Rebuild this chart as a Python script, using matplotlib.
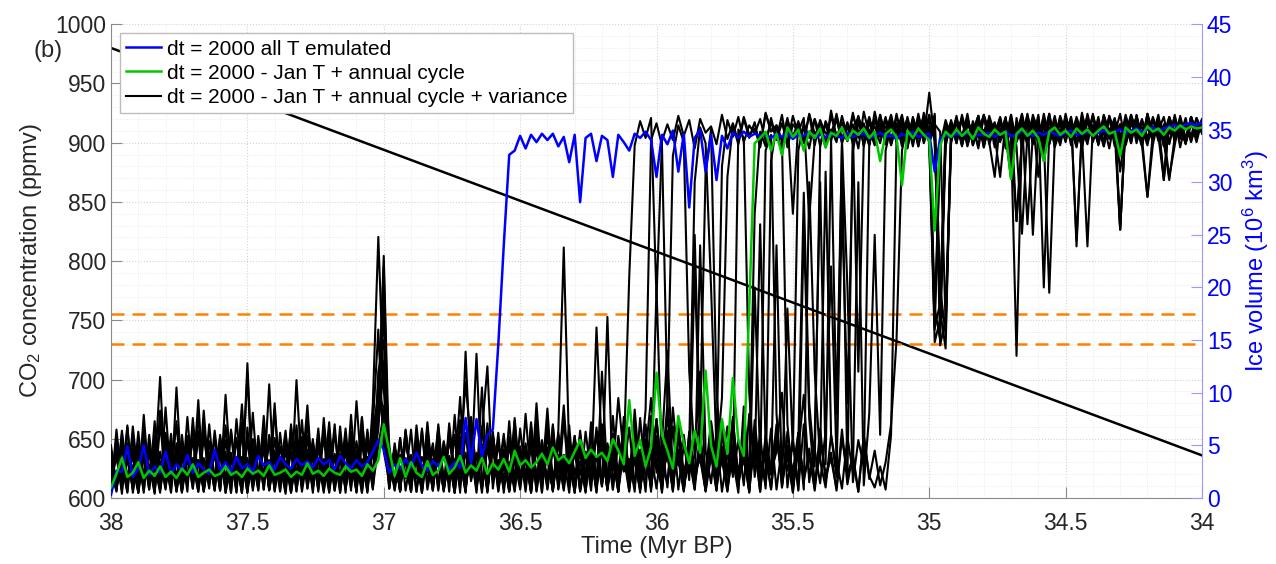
import numpy as np
import matplotlib
matplotlib.use('Agg')
import matplotlib.pyplot as plt
from matplotlib.ticker import MultipleLocator

# ---- data ----
# ice volume in 10^6 km^3, one value every 0.02 Myr from 38 to 34 Myr BP
blue_ice = [
    0.3, 2.6, 2.5, 4.9, 2.0, 2.8, 5.0, 2.2, 3.0, 2.4,
    4.4, 2.3, 3.2, 2.6, 4.1, 2.4, 3.3, 2.7, 2.3, 4.6,
    2.7, 3.4, 2.5, 3.9, 2.8, 3.2, 2.5, 4.0, 3.1, 3.4,
    2.7, 3.9, 3.2, 2.8, 3.7, 3.1, 3.5, 2.9, 3.8, 3.2,
    3.6, 2.7, 4.0, 3.3, 2.8, 3.6, 3.0, 3.4, 4.4, 5.5,
    4.6, 2.4, 3.2, 2.8, 3.7, 2.9, 4.3, 3.1, 2.6, 3.5,
    3.0, 3.8, 2.7, 3.4, 2.9, 7.6, 3.3, 7.5, 3.9, 6.0,
    6.5, 14.6, 24.0, 32.6, 33.0, 34.4, 33.2, 34.5, 33.8, 34.6,
    34.0, 34.6, 33.4, 34.3, 31.9, 34.5, 28.1, 34.2, 34.6, 32.0,
    34.4, 34.0, 30.5, 34.5, 33.8, 33.0, 34.6, 34.2, 34.8, 34.0,
    30.5, 34.5, 33.6, 34.9, 31.0, 34.6, 27.6, 34.2, 35.0, 31.0,
    34.5, 30.2, 34.4, 33.2, 34.7, 34.2, 34.8, 34.3, 34.6, 34.4,
    34.5, 34.2, 34.6, 34.3, 34.7, 34.1, 34.5, 34.4, 34.8, 34.2,
    34.5, 34.3, 34.6, 34.4, 34.2, 34.7, 34.3, 34.5, 34.6, 34.2,
    34.4, 34.7, 34.3, 34.5, 34.1, 34.6, 34.4, 34.8, 34.3, 34.5,
    34.6, 31.0, 34.2, 34.5, 34.3, 34.6, 34.4, 34.7, 34.3, 34.5,
    34.5, 34.7, 34.3, 34.6, 34.8, 34.4, 34.5, 34.9, 34.6, 34.4,
    34.7, 34.5, 34.8, 34.6, 34.4, 34.7, 34.9, 34.5, 34.6, 34.8,
    34.5, 34.7, 34.9, 34.6, 34.8, 35.0, 34.7, 34.9, 35.1, 34.8,
    35.0, 35.2, 34.9, 35.1, 35.3, 35.4, 35.2, 35.5, 35.6, 35.4,
    35.7]

green_ice = [
    1.0, 2.3, 3.8, 2.0, 2.4, 3.4, 1.9, 2.6, 2.1, 3.0,
    2.0, 2.5, 1.9, 2.8, 2.2, 3.2, 2.0, 2.4, 2.7, 2.1,
    2.3, 3.0, 2.2, 2.5, 2.0, 2.8, 2.3, 2.6, 2.1, 3.1,
    2.2, 2.4, 2.7, 2.0, 2.5, 2.2, 3.3, 2.3, 2.6, 2.1,
    2.8, 2.4, 2.2, 3.0, 2.5, 2.7, 2.1, 3.2, 2.6, 3.6,
    7.0, 4.5, 2.1, 3.8, 2.0, 3.4, 2.4, 2.0, 3.5, 2.2,
    2.6, 3.9, 2.3, 2.9, 4.0, 2.4, 3.1, 2.6, 3.8, 2.3,
    3.3, 2.7, 3.7, 2.5, 4.5, 3.1, 3.6, 2.9, 3.4, 4.2,
    3.2, 4.8, 3.6, 4.0, 3.3, 4.4, 5.5, 3.8, 4.6, 3.9,
    4.3, 3.5, 5.6, 4.5, 3.2, 9.3, 4.0, 5.5, 3.0, 4.8,
    11.9, 6.0, 4.5, 2.8, 7.8, 5.2, 3.3, 6.4, 4.3, 12.1,
    5.0, 3.0, 7.5, 4.2, 11.4, 5.5, 4.0, 18.1, 33.7, 34.2,
    34.8, 33.0, 34.6, 32.6, 35.2, 34.3, 35.0, 33.0, 34.8, 34.2,
    35.1, 33.3, 34.7, 34.4, 35.2, 34.0, 34.9, 34.5, 35.1, 34.2,
    34.8, 32.0, 34.6, 35.0, 34.3, 29.7, 34.9, 34.2, 35.1, 34.5,
    34.0, 25.4, 33.5, 34.8, 34.3, 35.0, 34.4, 34.9, 34.1, 35.2,
    34.6, 34.3, 35.0, 34.5, 34.8, 30.3, 34.6, 35.1, 34.4, 34.9,
    34.2, 32.0, 34.8, 35.2, 34.5, 34.9, 34.3, 35.1, 34.6, 35.0,
    34.4, 34.9, 35.3, 34.6, 34.8, 32.5, 35.2, 34.7, 35.0, 34.4,
    35.3, 34.8, 35.1, 34.5, 35.2, 34.9, 35.4, 35.0, 35.3, 35.1,
    35.2]

# ensemble members with added variance (black)
var_run1 = [
    0.5, 5.8, 1.2, 4.1, 0.8, 6.3, 1.5, 3.2, 0.4, 7.1,
    2.0, 4.6, 0.9, 5.2, 1.7, 3.8, 0.6, 6.8, 1.3, 4.4,
    0.7, 9.8, 1.9, 3.5, 0.5, 5.6, 1.1, 4.9, 0.8, 6.0,
    1.6, 3.3, 0.4, 5.4, 2.1, 7.4, 0.9, 4.2, 1.4, 5.9,
    0.6, 3.9, 1.8, 6.6, 1.0, 4.5, 0.5, 5.1, 2.3, 8.2,
    23.0, 3.6, 1.2, 5.7, 0.7, 4.0, 1.9, 6.4, 0.8, 3.7,
    1.5, 5.3, 0.6, 7.9, 1.3, 4.3, 2.0, 13.7, 0.9, 4.8,
    1.7, 6.2, 0.5, 5.0, 2.2, 4.1, 1.0, 7.2, 1.6, 5.5,
    0.8, 4.6, 2.4, 8.8, 1.2, 5.9, 0.7, 4.4, 1.9, 6.7,
    1.1, 5.2, 2.6, 9.5, 4.0,
    21.0, 33.5, 35.8, 34.2, 36.1, 19.0, 33.9, 35.5, 34.0, 36.3,
    34.4, 35.9, 33.2, 36.0, 34.7, 35.3, 33.6, 36.4, 34.1, 35.6,
    33.8, 36.2, 34.5, 35.1, 33.4, 36.6, 34.9, 35.4, 32.6, 36.0,
    34.3, 35.8, 33.7, 36.5, 34.6, 35.2, 33.3, 36.8, 34.2, 35.7,
    33.9, 36.3, 34.8, 35.0, 33.5, 36.7, 34.4, 35.9, 33.6, 36.2,
    34.7, 35.4, 33.8, 36.5, 34.1, 38.5, 33.9, 17.0, 34.5, 35.6,
    33.7, 36.1, 34.6, 35.3, 33.2, 36.4, 34.8, 35.7, 33.9, 36.0,
    34.3, 13.5, 34.9, 36.2, 33.6, 35.5, 34.2, 19.5, 33.8, 36.3,
    34.5, 35.8, 33.4, 36.6, 34.0, 35.2, 33.7, 36.4, 34.6, 35.5,
    33.3, 36.1, 34.8, 35.0, 33.9, 36.5, 34.2, 35.6, 33.6, 36.2,
    34.7, 35.3, 34.0, 36.0, 34.5, 35.4]

var_run2 = [
    3.4, 0.9, 6.1, 1.4, 4.7, 0.6, 5.5, 2.2, 3.0, 0.8,
    8.6, 1.3, 4.2, 0.5, 5.9, 1.8, 3.6, 0.7, 7.0, 1.5,
    4.3, 0.9, 6.5, 2.0, 3.9, 0.6, 8.1, 1.2, 4.8, 0.8,
    5.7, 1.9, 3.4, 0.5, 6.9, 1.3, 4.1, 2.4, 5.2, 0.7,
    6.3, 1.6, 3.8, 0.9, 5.5, 2.1, 7.6, 1.0, 9.0, 24.8,
    10.5, 1.4, 4.6, 0.6, 6.2, 1.8, 3.5, 0.8, 5.8, 2.3,
    4.0, 0.7, 6.6, 1.5, 3.9, 11.0, 5.1, 1.2, 4.5, 0.6,
    6.0, 2.1, 3.7, 0.9, 7.3, 1.4, 4.9, 0.5, 5.6, 1.9,
    3.8, 0.8, 6.4, 23.8, 4.2, 1.3, 5.3, 0.7, 4.7, 2.0,
    6.9, 1.1, 4.1, 0.6, 7.7, 1.7, 5.0, 2.5, 8.4,
    34.0, 35.6, 33.5, 9.0, 3.2, 6.5, 1.8, 5.0, 30.0, 35.2,
    33.7, 20.0, 4.5, 31.5, 35.9, 34.3, 36.2, 33.8, 35.4, 34.6,
    36.0, 33.9, 35.7, 34.1, 36.4, 33.3, 35.5, 34.8, 36.1, 26.5,
    34.0, 35.8, 33.6, 36.3, 34.4, 35.1, 33.9, 36.6, 34.2, 35.6,
    33.5, 36.0, 34.7, 35.3, 33.8, 36.5, 34.0, 35.7, 33.4, 36.2,
    34.6, 35.0, 16.0, 33.5, 35.9, 34.3, 36.1, 33.7, 35.4, 34.8,
    36.3, 33.6, 35.2, 34.4, 30.5, 35.8, 34.1, 26.3, 33.9, 36.4,
    34.5, 35.1, 33.2, 36.0, 34.7, 35.6, 33.8, 36.2, 23.9, 35.3,
    34.2, 36.5, 33.9, 35.0, 34.6, 36.1, 25.5, 35.7, 34.0, 36.3,
    33.5, 28.6, 34.8, 35.9, 30.2, 36.0, 34.3, 35.4, 33.9, 36.2,
    34.6, 35.8]

var_run3 = [
    1.8, 4.5, 0.4, 6.7, 1.1, 3.9, 0.7, 5.0, 2.5, 11.5,
    1.0, 5.3, 0.6, 4.0, 1.6, 6.9, 0.8, 3.6, 2.2, 5.7,
    1.2, 4.4, 0.5, 7.5, 1.9, 3.8, 0.9, 5.9, 1.4, 10.8,
    0.6, 4.9, 2.0, 6.1, 0.7, 4.3, 1.5, 5.6, 0.9, 3.7,
    1.7, 7.0, 0.5, 4.6, 2.3, 5.4, 1.1, 6.2, 0.8, 12.0,
    15.0, 5.1, 0.7, 4.1, 1.9, 6.5, 0.6, 3.9, 2.4, 5.2,
    0.9, 4.7, 1.3, 6.0, 0.5, 13.9, 1.8, 4.2, 0.8, 7.1,
    1.4, 3.6, 2.6, 5.8, 0.7, 4.9, 1.2, 6.8, 0.6, 4.0,
    2.0, 5.6, 0.9, 7.4, 1.5, 4.4, 0.7, 6.3, 2.2, 3.9,
    1.1, 17.2, 0.8, 5.5, 2.6, 6.7, 1.3, 4.6, 0.6, 7.8,
    2.4, 5.0, 1.0, 8.6, 3.1, 6.0, 1.7, 22.0, 4.8, 2.2, 7.3, 3.5, 9.5,
    30.5, 35.4, 33.6, 36.0, 34.2, 35.7, 33.3, 36.5, 34.8, 35.2,
    33.9, 36.1, 27.0, 35.6, 34.0, 36.4, 33.5, 35.9, 34.6, 35.0,
    33.8, 36.3, 34.3, 35.5, 33.2, 36.7, 34.5, 35.3, 33.7, 36.0,
    34.9, 35.6, 33.4, 36.2, 34.1, 35.8, 33.9, 36.4, 18.0, 15.0,
    33.6, 35.7, 34.4, 36.0, 33.5, 35.2, 34.7, 36.3, 33.8, 30.5,
    35.9, 34.2, 36.1, 33.4, 25.1, 34.6, 35.8, 33.7, 36.5, 34.0,
    35.4, 33.9, 36.2, 34.8, 35.0, 33.3, 36.0, 34.5, 35.7, 33.8,
    36.3, 34.1, 35.5, 33.6, 36.4, 34.9, 35.2, 33.5, 36.1, 34.4,
    30.2, 36.0, 34.6, 35.3, 33.7, 36.2, 34.8, 35.5]

var_run4 = [
    4.2, 0.8, 5.4, 1.6, 3.1, 0.5, 7.9, 1.3, 4.6, 0.9,
    6.2, 2.1, 3.5, 0.7, 5.0, 1.4, 9.3, 0.6, 4.1, 1.8,
    5.6, 0.9, 3.7, 2.3, 6.4, 0.5, 4.5, 1.2, 7.8, 0.8,
    3.9, 1.7, 5.3, 0.6, 4.0, 2.4, 8.8, 1.0, 5.5, 0.7,
    4.3, 1.5, 6.0, 0.9, 3.6, 2.2, 5.8, 0.5, 6.9, 16.0,
    4.4, 1.6, 3.8, 0.7, 5.7, 2.0, 4.2, 0.6, 7.2, 1.4,
    5.0, 0.8, 3.9, 2.3, 9.6, 1.1, 4.7, 0.5, 6.3, 12.5,
    0.9, 5.2, 1.8, 3.4, 0.6, 6.6, 2.1, 4.8, 0.7, 5.4,
    1.3, 7.0, 0.8, 4.1, 2.5, 5.9, 0.6, 3.7, 1.6, 16.2,
    4.4, 0.9, 6.1, 1.2, 5.3, 0.7, 8.4, 2.2, 4.6, 1.0,
    20.0, 3.1, 1.4, 6.8, 0.8, 5.0, 2.3, 4.1, 12.0, 1.5,
    6.5, 0.9, 4.9, 2.6, 7.7, 1.2, 5.3, 3.0,
    27.0, 34.8, 33.4, 36.1, 34.0, 35.6, 33.7, 36.3, 34.5, 35.1,
    33.2, 36.0, 34.6, 35.4, 33.9, 36.5, 34.1, 35.7, 33.6, 36.2,
    34.8, 35.0, 33.5, 36.4, 34.3, 35.8, 33.8, 36.1, 34.0, 35.5,
    33.4, 36.6, 34.7, 17.5, 33.9, 35.3, 34.2, 36.0, 33.7, 35.6,
    34.5, 36.3, 33.3, 35.9, 34.4, 35.1, 33.6, 36.4, 26.3, 34.1,
    35.7, 33.8, 36.2, 20.0, 34.6, 35.4, 33.5, 36.0, 34.9, 35.2,
    33.9, 36.5, 34.3, 35.8, 33.4, 36.1, 34.7, 25.5, 35.5, 33.7,
    36.3, 34.2, 28.6, 33.6, 35.9, 34.5, 36.2, 33.8, 35.6, 34.1,
    36.0, 34.8, 35.3]

var_run5 = [
    0.6, 6.5, 1.4, 3.6, 0.9, 5.1, 2.0, 4.3, 0.5, 8.3,
    1.2, 4.0, 0.7, 6.0, 1.9, 3.3, 0.6, 5.8, 2.4, 4.5,
    0.8, 6.9, 1.5, 3.9, 0.5, 12.8, 1.0, 4.6, 2.1, 5.3,
    0.7, 3.8, 1.6, 6.7, 0.9, 4.4, 2.3, 5.0, 0.6, 7.6,
    1.3, 4.1, 0.8, 5.6, 2.0, 3.5, 0.5, 6.2, 1.7, 11.0,
    6.0, 0.9, 4.8, 1.5, 3.6, 0.6, 5.9, 2.2, 4.0, 0.7,
    7.0, 1.4, 3.7, 0.5, 5.5, 2.0, 4.2, 0.8, 6.8, 1.3,
    4.9, 0.6, 5.7, 2.4, 3.4, 0.9, 8.0, 1.6, 4.7, 0.5,
    6.1, 1.9, 3.8, 0.7, 5.2, 2.2, 4.4, 0.6, 7.2, 1.1,
    5.0, 0.8, 4.0, 2.5, 6.6, 0.9, 3.9, 1.7, 5.6, 0.6,
    7.5, 2.0, 4.3, 0.8, 6.0, 1.4, 3.4, 25.0, 5.8, 1.1,
    4.6, 0.7, 6.9, 2.3, 3.7, 0.5, 8.7, 1.8, 4.9, 0.6,
    5.5, 2.4, 24.0, 1.0, 6.3, 0.9, 4.5, 9.8, 1.5, 5.7, 30.0, 3.2,
    34.0, 8.0, 33.5, 2.0, 35.0, 12.0, 33.8, 36.1, 34.4, 35.5,
    33.6, 36.3, 34.1, 35.8, 33.3, 36.0, 34.7, 35.2, 33.9, 14.8,
    17.0, 34.5, 35.7, 33.7, 36.4, 34.2, 35.0, 33.5, 36.2, 34.8,
    35.4, 33.8, 36.1, 31.0, 34.3, 35.9, 26.0, 34.6, 35.3, 33.4,
    36.5, 34.0, 35.6, 33.9, 36.2, 24.5, 35.1, 33.6, 36.3, 34.7,
    35.5, 33.2, 36.0, 34.4, 35.8, 33.7, 36.4, 34.1, 35.2, 33.9,
    36.1, 34.6, 30.5, 33.5, 36.3, 34.2, 35.7, 33.8, 35.9]

var_run6 = [
    2.7, 0.7, 4.9, 1.3, 6.2, 0.5, 3.8, 1.9, 5.5, 0.8,
    4.1, 1.5, 7.3, 0.6, 3.5, 2.3, 5.8, 0.9, 4.4, 1.1,
    6.0, 0.5, 3.6, 2.0, 8.9, 0.8, 4.7, 1.6, 5.3, 0.7,
    4.0, 2.5, 6.4, 0.6, 3.7, 1.2, 5.9, 0.9, 4.8, 2.1,
    7.2, 0.7, 3.9, 1.5, 5.0, 0.5, 6.6, 2.2, 4.3, 8.0,
    22.0, 0.9, 5.2, 1.4, 3.8, 0.6, 6.9, 2.0, 4.1, 0.8,
    5.6, 1.7, 4.0, 0.5, 7.4, 1.3, 3.6, 2.4, 5.1, 0.7,
    6.3, 1.0, 4.5, 0.6, 5.7, 2.1, 3.9, 0.9, 9.0, 1.5,
    4.8, 0.6, 6.2, 2.3, 3.5, 0.8, 5.4, 1.2, 4.2, 0.5,
    7.0, 1.9, 5.0, 0.7, 4.4, 2.6, 6.5, 0.9, 3.8, 1.3,
    5.9, 0.6, 8.2, 1.8, 4.6, 0.8, 6.1, 2.4, 3.7, 0.7,
    5.5, 1.5, 4.3, 0.9, 7.4, 2.2, 5.8, 0.6, 20.0, 3.8,
    1.2, 6.6, 0.8, 4.9, 2.6, 5.6, 0.7, 26.0, 7.5, 1.4,
    4.2, 31.0, 6.0, 2.0, 28.0, 9.0,
    33.0, 35.6, 34.3, 36.2, 33.6, 35.1, 34.7, 36.4, 33.9, 35.5,
    34.2, 36.0, 33.4, 35.8, 34.6, 36.3, 20.0, 15.5, 33.7, 35.9,
    34.1, 36.5, 33.5, 35.3, 34.8, 36.0, 33.8, 35.6, 34.4, 30.3,
    36.1, 33.3, 35.7, 34.0, 36.4, 32.0, 35.2, 33.9, 36.2, 34.5,
    35.8, 33.6, 36.0, 34.3, 35.4, 33.8, 36.3, 34.7, 35.1, 32.5,
    36.0, 34.2, 35.6, 33.5, 36.4, 34.9, 35.3, 30.5, 35.8, 34.1,
    36.1, 33.7, 35.5, 34.6, 36.0]

var_run7 = [
    5.0, 1.1, 3.4, 0.6, 6.8, 1.7, 4.2, 0.8, 5.9, 2.0,
    3.7, 0.5, 10.5, 1.3, 4.8, 0.9, 6.1, 2.2, 3.9, 0.7,
    5.4, 1.6, 4.1, 0.6, 7.2, 1.0, 3.5, 2.4, 6.3, 0.8,
    4.5, 1.4, 5.7, 0.5, 11.2, 2.1, 3.8, 0.9, 6.0, 1.2,
    4.7, 0.7, 5.5, 1.9, 3.6, 0.6, 7.7, 1.5, 4.4, 6.5,
    18.0, 2.3, 3.9, 0.8, 6.4, 1.2, 5.0, 0.5, 4.3, 2.0,
    6.7, 0.9, 3.6, 1.6, 5.8, 0.6, 7.5, 2.5, 4.1, 0.8,
    5.3, 1.3, 4.6, 0.7, 6.2, 2.1, 3.7, 0.5, 5.6, 1.8,
    8.5, 0.9, 4.0, 1.4, 6.9, 0.6, 5.1, 2.3, 3.8, 1.0,
    5.7, 0.7, 7.8, 1.6, 4.5, 0.9, 6.3, 2.0, 4.2, 9.5,
    3.0, 1.1, 5.4, 0.6, 7.0, 2.4, 4.7, 0.8, 5.9, 1.5,
    4.0, 0.7, 6.6, 2.2, 4.9, 0.9, 7.3, 1.3, 5.2, 0.6,
    6.0, 2.5, 4.4, 10.0, 1.0, 5.5, 0.8, 7.0, 2.1, 4.6,
    1.4, 6.4, 22.0, 3.6, 0.9, 5.8, 2.4, 30.0, 1.2, 8.0,
    25.0, 6.0,
    33.0, 35.4, 34.1, 36.0, 33.5, 35.7, 34.6, 36.3, 33.8, 35.2,
    18.5, 33.4, 35.9, 34.2, 36.1, 33.6, 35.5, 34.8, 36.4, 33.9,
    35.0, 34.4, 36.2, 31.5, 35.6, 33.7, 36.5, 25.0, 35.3, 34.0,
    35.8, 33.5, 36.0, 34.6, 35.1, 33.3, 36.3, 34.9, 35.4, 33.6,
    36.1, 34.2, 35.7, 33.9, 36.4, 34.5, 35.0, 33.4, 36.0, 34.7,
    35.5, 33.8, 30.2, 34.3, 35.9, 33.6, 36.2, 34.5, 35.6]

var_run8 = [
    1.5, 3.9, 0.7, 5.2, 2.4, 4.6, 0.5, 6.0, 1.3, 3.5,
    0.8, 5.5, 2.0, 4.3, 0.6, 7.6, 1.4, 3.8, 0.9, 6.4,
    2.2, 4.0, 0.5, 5.7, 1.6, 11.8, 0.7, 4.9, 2.3, 3.6,
    0.9, 6.2, 1.2, 4.4, 0.6, 5.8, 2.5, 3.9, 0.8, 6.9,
    1.7, 4.2, 0.5, 5.3, 2.1, 3.7, 0.9, 6.5, 1.0, 5.0,
    8.0, 1.6, 4.7, 0.6, 5.9, 2.2, 3.6, 0.8, 6.3, 1.4,
    4.1, 0.7, 5.6, 2.3, 3.8, 0.5, 7.1, 1.2, 4.8, 0.9,
    6.0, 2.0, 3.5, 0.6, 5.1, 1.5, 4.4, 0.8, 6.8, 2.4,
    3.9, 0.7, 5.4, 1.3, 4.6, 0.5, 6.1, 2.1, 3.7, 0.9,
    5.8, 1.6, 4.0, 0.6, 6.7, 2.3, 3.4, 0.8, 5.2, 1.1,
    4.8, 0.5, 6.4, 1.9, 3.8, 0.9, 5.6, 2.2, 4.3, 0.7,
    7.1, 1.4, 3.6, 0.6, 5.0, 2.5, 4.1, 0.8, 6.6, 1.2,
    4.5, 0.9, 5.8, 2.0, 3.9, 0.6, 6.2, 1.5, 4.7, 0.7,
    5.4, 2.3, 3.7, 0.9, 6.5, 1.3, 4.2, 0.6, 5.9, 2.1,
    1.0, 3.0, 0.8, 6.0,
    34.0, 35.8, 33.6, 36.2, 34.4, 35.3, 33.9, 36.5, 14.5, 17.0,
    34.7, 35.6, 33.4, 36.0, 34.2, 35.9, 33.7, 36.3, 34.6, 35.1,
    33.8, 36.1, 34.0, 35.5, 33.5, 36.4, 34.8, 35.2, 33.6, 36.0,
    34.3, 35.7, 33.9, 36.2, 34.5, 23.9, 35.4, 33.7, 36.3, 34.1,
    35.8, 25.5, 36.0, 34.6, 35.3, 33.8, 36.5, 34.2, 35.6, 33.5,
    36.1, 34.9, 35.0, 33.7, 36.2, 34.4, 35.8]

var_run9 = [
    2.9, 0.6, 5.7, 1.8, 4.0, 0.7, 6.6, 1.2, 3.3, 0.5,
    5.1, 2.3, 4.4, 0.8, 7.7, 1.5, 3.6, 0.6, 5.4, 2.0,
    4.2, 0.9, 6.3, 1.3, 3.8, 0.5, 5.6, 2.2, 4.7, 0.8,
    8.4, 1.6, 3.5, 0.7, 6.0, 1.9, 4.6, 0.5, 5.8, 2.4,
    3.9, 0.9, 6.8, 1.4, 4.1, 0.6, 5.3, 2.1, 4.9, 9.5,
    19.0, 1.1, 4.3, 0.7, 6.5, 2.0, 3.7, 0.5, 5.5, 1.6,
    4.6, 0.8, 7.1, 2.3, 3.6, 0.6, 5.9, 1.3, 10.5, 0.9,
    4.8, 2.2, 6.1, 0.7, 3.9, 1.5, 5.2, 0.6, 7.4, 1.9,
    4.2, 0.8, 5.7, 2.5, 3.4, 0.5, 6.4, 1.4, 4.6, 0.9,
    12.0, 1.7, 5.0, 0.6, 6.3, 2.2, 4.0, 0.8, 5.6, 1.3,
    7.5, 2.5, 9.0,
    32.5, 35.4, 33.8, 12.0, 4.0, 7.5, 31.0, 35.0, 10.0, 3.5,
    6.8, 2.0, 5.5, 1.2, 8.0, 3.0, 26.0, 5.0, 2.2, 7.0,
    1.5, 18.0, 4.5, 33.0, 35.6, 34.2, 36.0, 33.4, 35.8, 34.6,
    36.3, 33.7, 35.2, 34.4, 36.1, 33.5, 35.7, 34.0, 36.4, 33.9,
    35.3, 34.7, 36.0, 33.2, 35.9, 34.3, 36.2, 33.8, 35.5, 34.8,
    16.5, 34.1, 36.3, 33.6, 35.4, 34.9, 36.0, 33.3, 35.7, 34.5,
    36.2, 33.9, 35.1, 34.2, 36.4, 33.5, 35.8, 30.5, 36.0, 34.6,
    35.3, 33.7, 36.5, 34.0, 35.6, 33.8, 36.1, 34.4, 35.2, 33.4,
    36.3, 34.8, 35.5, 33.6, 36.0, 34.2, 35.9, 33.9, 36.2, 34.5,
    35.0, 33.7, 36.4, 34.1, 35.6, 33.8, 36.1, 34.6]

var_run10 = [
    0.9, 4.8, 1.6, 6.9, 0.5, 3.7, 2.3, 5.2, 0.8, 4.4,
    1.3, 6.1, 0.6, 3.9, 2.0, 5.6, 0.9, 8.3, 1.5, 4.2,
    0.7, 5.5, 2.4, 3.6, 0.5, 6.7, 1.2, 4.5, 0.8, 5.9,
    2.2, 3.8, 0.6, 7.0, 1.7, 4.9, 0.9, 5.3, 2.5, 3.5,
    0.5, 6.4, 1.4, 4.6, 0.7, 9.2, 2.0, 3.9, 0.9, 7.0,
    13.0, 3.4, 0.8, 5.7, 1.9, 4.1, 0.6, 6.6, 1.3, 4.8,
    0.7, 5.4, 2.4, 3.7, 0.9, 6.2, 1.6, 4.3, 0.5, 5.8,
    2.1, 3.6, 0.8, 7.3, 1.2, 4.7, 0.6, 5.5, 2.3, 4.0,
    0.9, 6.8, 1.5, 3.8, 0.5, 5.6, 2.2, 4.4, 0.7, 6.3,
    1.3, 4.6, 0.8, 5.9, 2.5, 3.7, 0.6, 7.6, 1.8, 4.2,
    0.9, 5.3, 14.0, 2.0, 6.0, 0.7, 4.6, 1.4, 5.8, 0.6,
    3.9, 2.2, 6.7, 0.8, 4.5, 1.6, 5.2, 0.5, 7.4, 2.0,
    33.0, 34.5, 8.0, 1.0, 5.0, 2.5, 6.2, 0.8, 30.0, 12.0,
    3.5, 1.0, 6.0, 2.8, 34.0, 20.0, 1.5, 5.5, 3.0,
    33.6, 35.9, 34.3, 36.2, 33.5, 35.4, 34.8, 36.0, 33.7, 35.6,
    34.1, 36.4, 33.9, 17.8, 14.2, 35.3, 34.5, 36.1, 33.4, 35.8,
    34.2, 36.3, 33.6, 35.1, 34.7, 36.0, 31.8, 35.5, 34.0, 36.2,
    33.8, 35.7, 34.4, 36.5, 33.3, 35.0, 34.6, 36.1, 33.9, 35.6,
    34.2, 36.3, 33.5, 35.9, 34.8, 36.0, 31.0, 35.4, 34.1, 36.2,
    33.7, 35.8, 34.5, 36.4, 33.4, 35.2, 34.9, 36.0, 33.8, 35.6,
    34.3, 35.9]

var_run11 = [
    4.6, 1.0, 3.2, 0.5, 5.9, 2.1, 4.4, 0.8, 7.3, 1.4,
    3.6, 0.6, 5.2, 2.5, 4.0, 0.9, 6.4, 1.2, 3.8, 0.7,
    5.8, 1.8, 4.3, 0.5, 6.9, 2.2, 3.5, 0.8, 5.4, 1.1,
    9.0, 0.7, 4.5, 2.0, 5.7, 0.6, 3.9, 1.5, 6.6, 0.9,
    4.2, 2.4, 5.5, 0.5, 7.9, 1.3, 3.7, 0.8, 6.1, 10.0,
    8.5, 0.9, 4.8, 2.3, 3.6, 0.6, 5.7, 1.6, 4.5, 0.7,
    6.3, 1.2, 3.8, 0.5, 5.0, 2.1, 7.7, 0.9, 4.4, 1.4,
    5.6, 0.7, 3.6, 2.4, 6.5, 0.8, 4.9, 1.1, 5.3, 0.6,
    7.0, 1.7, 4.1, 0.9, 5.8, 2.2, 3.5, 0.5, 6.2, 1.5,
    4.7, 0.8, 5.4, 2.0, 3.9, 0.6, 6.9, 1.3, 4.3, 0.9,
    5.5, 2.4, 4.0, 0.7, 6.6, 1.2, 3.7, 0.8, 24.0, 4.5,
    1.4, 5.9, 0.6, 4.2, 2.3, 35.0, 34.2, 10.0, 2.0, 6.1,
    0.9, 32.0, 35.4, 34.0, 7.0, 1.5, 5.2, 29.0, 9.0, 3.0,
    33.5, 35.7, 34.1, 36.0, 33.8, 35.2, 34.6, 36.3, 33.4, 35.9,
    34.3, 36.1, 33.6, 35.5, 34.8, 36.4, 33.9, 35.0, 34.2, 36.2,
    33.7, 16.2, 18.5, 35.6, 34.0, 36.0, 33.5, 35.8, 34.7, 36.3,
    33.8, 35.3, 34.4, 36.1, 33.2, 35.7, 34.6, 36.5, 33.9, 35.0,
    34.3, 36.2, 33.6, 35.4, 34.8, 36.0, 33.5, 35.9, 34.1, 36.3,
    33.8, 35.6, 34.5, 36.1, 33.4, 35.2, 34.7, 36.4, 33.7, 35.8,
    34.2, 36.0, 33.9, 35.5, 34.6, 36.2, 33.3, 35.7, 34.4, 36.1,
    34.9]

var_run12 = [
    3.1, 0.8, 6.4, 1.7, 4.5, 0.5, 5.3, 2.4, 3.8, 0.9,
    6.0, 1.4, 4.7, 0.6, 5.5, 2.1, 7.9, 0.8, 4.0, 1.6,
    5.2, 0.5, 3.7, 2.2, 6.5, 1.0, 4.4, 0.7, 5.8, 2.5,
    3.9, 0.6, 6.1, 1.3, 4.8, 0.9, 7.3, 2.0, 3.6, 0.5,
    5.7, 1.8, 4.2, 0.8, 6.3, 2.3, 3.5, 0.6, 5.1, 7.5,
    12.0, 1.5, 3.9, 0.7, 5.6, 2.2, 4.6, 0.9, 6.8, 1.1,
    4.3, 0.6, 5.9, 2.5, 3.7, 0.8, 6.2, 1.4, 4.9, 0.5,
    5.4, 2.0, 4.1, 0.9, 7.6, 1.3, 3.8, 0.6, 5.7, 2.3,
    4.4, 0.7, 6.0, 1.6, 3.5, 0.8, 5.2, 2.4, 4.7, 0.6,
    6.5, 1.2, 3.9, 0.9, 5.6, 2.1, 4.2, 0.5, 7.0, 1.7,
    4.8, 0.8, 5.9, 2.3, 3.6, 0.6, 6.3, 1.4, 4.5, 0.9,
    5.3, 2.2, 4.0, 0.7, 6.8, 1.5, 3.7, 0.6, 5.6, 2.4,
    4.1, 0.8, 6.2, 1.3, 4.6, 0.5, 5.5, 2.0, 3.9, 0.9,
    6.6, 1.6, 4.3, 0.7, 5.7, 2.3, 3.8, 0.6, 6.0, 1.8,
    4.5, 1.2, 3.4, 7.0, 15.0,
    33.0, 35.6, 34.2, 36.1, 33.7, 35.3, 34.6, 18.0, 16.5, 33.9,
    35.8, 34.4, 36.2, 33.5, 35.5, 34.8, 36.0, 33.3, 35.9, 34.1,
    36.4, 33.8, 35.2, 34.5, 36.1, 33.6, 35.7, 34.0, 36.3, 33.9,
    35.4, 34.7, 36.0, 33.4, 35.8, 34.2, 36.2, 33.7, 35.1, 34.6,
    36.5, 33.5, 35.6, 34.3, 36.0, 33.8, 35.3, 34.9, 36.2, 33.6,
    35.9, 34.4, 36.1, 33.9, 35.5, 34.7]

variance_runs = [var_run1, var_run2, var_run3, var_run4, var_run5, var_run6,
                 var_run7, var_run8, var_run9, var_run10, var_run11, var_run12]

# prescribed CO2 forcing (ppmv) and thresholds
co2_time = [38, 34]
co2_ppmv = [980, 636]
threshold_ppmv = [755, 730]

labels = ['dt = 2000 all T emulated',
          'dt = 2000 - Jan T + annual cycle',
          'dt = 2000 - Jan T + annual cycle + variance']

# ---- plotting ----
plt.rcParams['font.family'] = ['Liberation Sans', 'DejaVu Sans']
plt.rcParams['mathtext.fontset'] = 'custom'
plt.rcParams['mathtext.rm'] = 'Liberation Sans'
plt.rcParams['mathtext.it'] = 'Liberation Sans:italic'

fig, ax = plt.subplots(figsize=(12.76, 5.64), dpi=100)
fig.subplots_adjust(left=0.087, right=0.942, bottom=0.117, top=0.957)
ax2 = ax.twinx()

ax.plot(co2_time, co2_ppmv, color='k', lw=1.8)
for lev in threshold_ppmv:
    ax.axhline(lev, color='#ff8000', lw=1.8, ls=(0, (5.2, 3.2)))

for run in variance_runs:
    t = np.linspace(38, 34, len(run))
    hk, = ax2.plot(t, run, color='k', lw=1.5)
t = np.linspace(38, 34, len(blue_ice))
hb, = ax2.plot(t, blue_ice, color='#0000ff', lw=1.8)
t = np.linspace(38, 34, len(green_ice))
hg, = ax2.plot(t, green_ice, color='#00c800', lw=1.8)

ax.set_xlim(38, 34)
ax.set_ylim(600, 1000)
ax2.set_ylim(0, 45)
ax.xaxis.set_major_locator(MultipleLocator(0.5))
ax.xaxis.set_minor_locator(MultipleLocator(0.1))
ax.yaxis.set_major_locator(MultipleLocator(50))
ax.yaxis.set_minor_locator(MultipleLocator(10))
ax2.yaxis.set_major_locator(MultipleLocator(5))
ax.xaxis.set_major_formatter(plt.FormatStrFormatter('%g'))

ax.grid(which='major', color='#d4d4d4', ls=':', lw=0.8)
ax.grid(which='minor', color='#e8e8e8', ls=':', lw=0.6)
ax.set_axisbelow(True)

for s in ['top', 'right']:
    ax.spines[s].set_visible(False)
for s in ['top', 'left', 'bottom']:
    ax2.spines[s].set_visible(False)
ax.spines['left'].set_color('#8a8a8a')
ax.spines['bottom'].set_color('#8a8a8a')
ax2.spines['right'].set_color('#9999ff')

ax.tick_params(which='major', direction='in', length=8, color='#8a8a8a',
               labelcolor='#262626', labelsize=16.5)
ax.tick_params(axis='x', pad=10)
ax.tick_params(which='minor', length=0)
ax2.tick_params(axis='y', direction='in', length=8, color='#9999ff',
                labelcolor='#0000ff', labelsize=16.5)

ax.set_xlabel('Time (Myr BP)', fontsize=17, color='#262626', labelpad=1)
ax.set_ylabel('CO$_2$ concentration (ppmv)', fontsize=17, color='#262626',
              labelpad=8)
ax2.set_ylabel('Ice volume (10$^6$ km$^3$)', fontsize=17, color='#0000ff',
               labelpad=6)

fig.text(0.026, 0.91, '(b)', fontsize=17, va='center', color='#262626')

ax2.legend([hb, hg, hk], labels, loc='upper left', bbox_to_anchor=(0.008, 0.981),
           borderaxespad=0, fontsize=15, frameon=True, fancybox=False,
           edgecolor='#bdbdbd', framealpha=1, handlelength=1.7,
           handletextpad=0.25, labelspacing=0.25, borderpad=0.3)

fig.savefig('out.png', dpi=100)
